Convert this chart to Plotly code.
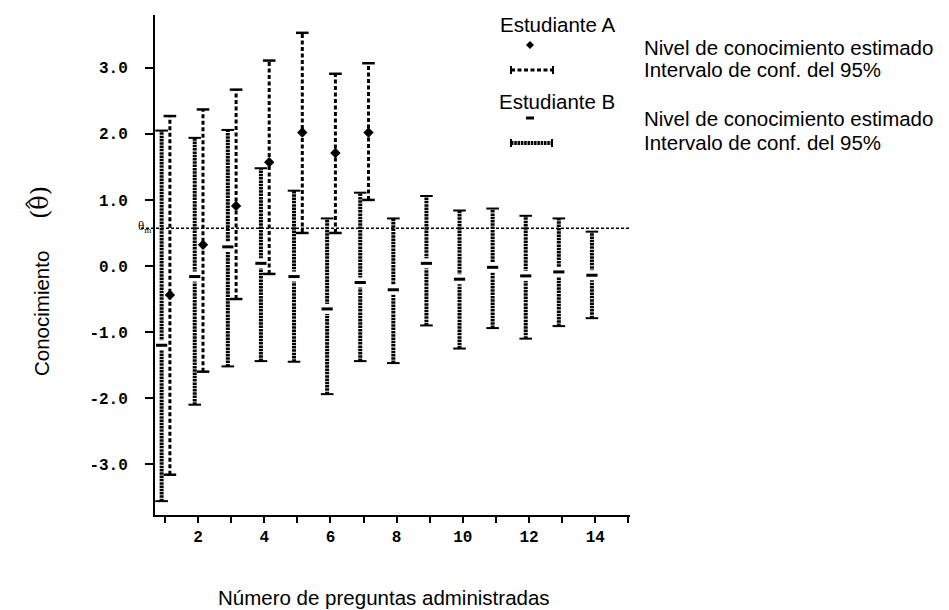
import plotly.graph_objects as go

# ---------------- data ----------------
items_B = list(range(1, 15))
est_B = [-1.20, -0.16, 0.29, 0.04, -0.16, -0.65, -0.25, -0.36, 0.04, -0.20, -0.02, -0.15, -0.09, -0.14]
hi_B = [2.05, 1.94, 2.06, 1.48, 1.14, 0.72, 1.11, 0.72, 1.06, 0.84, 0.87, 0.76, 0.72, 0.52]
lo_B = [-3.56, -2.10, -1.52, -1.44, -1.45, -1.94, -1.44, -1.47, -0.90, -1.25, -0.94, -1.10, -0.91, -0.79]

items_A = list(range(1, 8))
est_A = [-0.44, 0.32, 0.91, 1.57, 2.02, 1.71, 2.02]
hi_A = [2.27, 2.37, 2.67, 3.11, 3.53, 2.91, 3.07]
lo_A = [-3.16, -1.60, -0.50, -0.12, 0.50, 0.50, 1.00]

theta_m = 0.57

x_ticks = list(range(1, 16))
x_ticktext = [str(v) if v % 2 == 0 else "" for v in x_ticks]
y_ticks = [-3, -2, -1, 0, 1, 2, 3]
y_ticktext = ["-3.0", "-2.0", "-1.0", "0.0", "1.0", "2.0", "3.0"]

# ---------------- layout geometry ----------------
PAD = 8                      # page body margin of the browser
W, H = 949 - PAD, 610 - PAD
L, R, T, B = 155 - PAD, 630 - PAD, 15 - PAD, 515 - PAD
OFF_B, OFF_A = -0.10, 0.15


def px(x):
    return (x - PAD - L) / (R - L)


def py(y):
    return (B - (y - PAD)) / (B - T)


def segs(xs, lo, hi):
    X, Y = [], []
    for x, l, h in zip(xs, lo, hi):
        X += [x, x, None]
        Y += [l, h, None]
    return X, Y


xb = [i + OFF_B for i in items_B]
xa = [i + OFF_A for i in items_A]

BEAD = dict(color="black", width=4, dash="2.5px,0.8px")
DASH = dict(color="black", width=3, dash="4px,2.5px")

fig = go.Figure()

# Student B: beaded interval bars
bx, by = segs(xb, lo_B, hi_B)
fig.add_trace(go.Scatter(x=bx, y=by, mode="lines", line=BEAD, hoverinfo="skip", showlegend=False))
fig.add_trace(go.Scatter(x=xb + xb, y=lo_B + hi_B, mode="markers",
                         marker=dict(symbol="line-ew", size=9, line=dict(color="black", width=2)),
                         hoverinfo="skip", showlegend=False))
# gap around estimate
fig.add_trace(go.Scatter(x=xb, y=est_B, mode="markers",
                         marker=dict(symbol="square", size=10, color="white", line=dict(width=0)),
                         hoverinfo="skip", showlegend=False))
fig.add_trace(go.Scatter(x=xb, y=est_B, mode="markers",
                         marker=dict(symbol="line-ew", size=8, line=dict(color="black", width=3)),
                         showlegend=False))

# Student A: dashed interval bars
ax_, ay_ = segs(xa, lo_A, hi_A)
fig.add_trace(go.Scatter(x=ax_, y=ay_, mode="lines", line=DASH, hoverinfo="skip", showlegend=False))
fig.add_trace(go.Scatter(x=xa + xa, y=lo_A + hi_A, mode="markers",
                         marker=dict(symbol="line-ew", size=9, line=dict(color="black", width=2.5)),
                         hoverinfo="skip", showlegend=False))
fig.add_trace(go.Scatter(x=xa, y=est_A, mode="markers",
                         marker=dict(symbol="diamond", size=8, color="black"),
                         showlegend=False))

shapes = []
# theta_m reference line
shapes.append(dict(type="line", xref="paper", yref="y", x0=px(141), x1=1, y0=theta_m, y1=theta_m,
                   line=dict(color="black", width=1.5, dash="3px,2px"), layer="below"))

# legend symbols (pixel positions converted to paper)
cx, cy, r = 530, 45, 4
shapes.append(dict(type="path", xref="paper", yref="paper",
                   path=f"M {px(cx)} {py(cy - r)} L {px(cx + r)} {py(cy)} L {px(cx)} {py(cy + r)} L {px(cx - r)} {py(cy)} Z",
                   fillcolor="black", line=dict(color="black", width=0)))
shapes.append(dict(type="line", xref="paper", yref="paper", x0=px(511), x1=px(553), y0=py(70), y1=py(70),
                   line=DASH))
for xx in (511, 553):
    shapes.append(dict(type="line", xref="paper", yref="paper", x0=px(xx), x1=px(xx), y0=py(66), y1=py(74),
                       line=dict(color="black", width=2)))
shapes.append(dict(type="line", xref="paper", yref="paper", x0=px(526), x1=px(534), y0=py(118), y1=py(118),
                   line=dict(color="black", width=3)))
shapes.append(dict(type="line", xref="paper", yref="paper", x0=px(511), x1=px(552), y0=py(143), y1=py(143),
                   line=BEAD))
for xx in (511, 552):
    shapes.append(dict(type="line", xref="paper", yref="paper", x0=px(xx), x1=px(xx), y0=py(139), y1=py(147),
                       line=dict(color="black", width=2)))

FONT = "Liberation Sans, Arial, sans-serif"
annotations = []


def txt(text, x, y, anchor="left", size=20.5, angle=0, family=FONT):
    annotations.append(dict(text=text, x=px(x), y=py(y), xref="paper", yref="paper",
                            xanchor=anchor, yanchor="middle", showarrow=False, textangle=angle,
                            font=dict(family=family, size=size, color="black")))


txt("Estudiante A", 557, 24, anchor="center")
txt("Nivel de conocimiento estimado", 642, 48)
txt("Intervalo de conf. del 95%", 642, 70)
txt("Estudiante B", 557, 101, anchor="center")
txt("Nivel de conocimiento estimado", 642, 119)
txt("Intervalo de conf. del 95%", 642, 142)
txt("Número de preguntas administradas", 384, 597, anchor="center")
txt("Conocimiento", 41, 314, anchor="center", angle=-90)
txt("(θ)", 40, 203, anchor="center", angle=-90, size=24, family="DejaVu Serif, serif")
txt("^", 31, 205, anchor="center", angle=-90, size=16, family="DejaVu Sans, sans-serif")
txt("θ<sub>m</sub>", 153, 226, anchor="right", size=13, family="Liberation Serif, serif")

TICKFONT = dict(family="Liberation Mono, Courier New, monospace", size=16, color="black", weight="bold")

fig.update_layout(
    width=W, height=H,
    margin=dict(l=L, r=W - R, t=T, b=H - B, pad=0, autoexpand=False),
    paper_bgcolor="white", plot_bgcolor="white",
    shapes=shapes, annotations=annotations,
    xaxis=dict(range=[0.7, 15.05], showgrid=False, zeroline=False, showline=True,
               linecolor="black", linewidth=2, ticks="outside", ticklen=6, tickwidth=2,
               tickcolor="black", tickvals=x_ticks, ticktext=x_ticktext, tickfont=TICKFONT,
               ticklabelstandoff=0, automargin=False),
    yaxis=dict(range=[-3.77, 3.8], showgrid=False, zeroline=False, showline=True,
               linecolor="black", linewidth=2, ticks="outside", ticklen=8, tickwidth=2,
               tickcolor="black", tickvals=y_ticks, ticktext=y_ticktext, tickfont=TICKFONT,
               ticklabelstandoff=14, automargin=False),
)

fig.write_html("out.html")
